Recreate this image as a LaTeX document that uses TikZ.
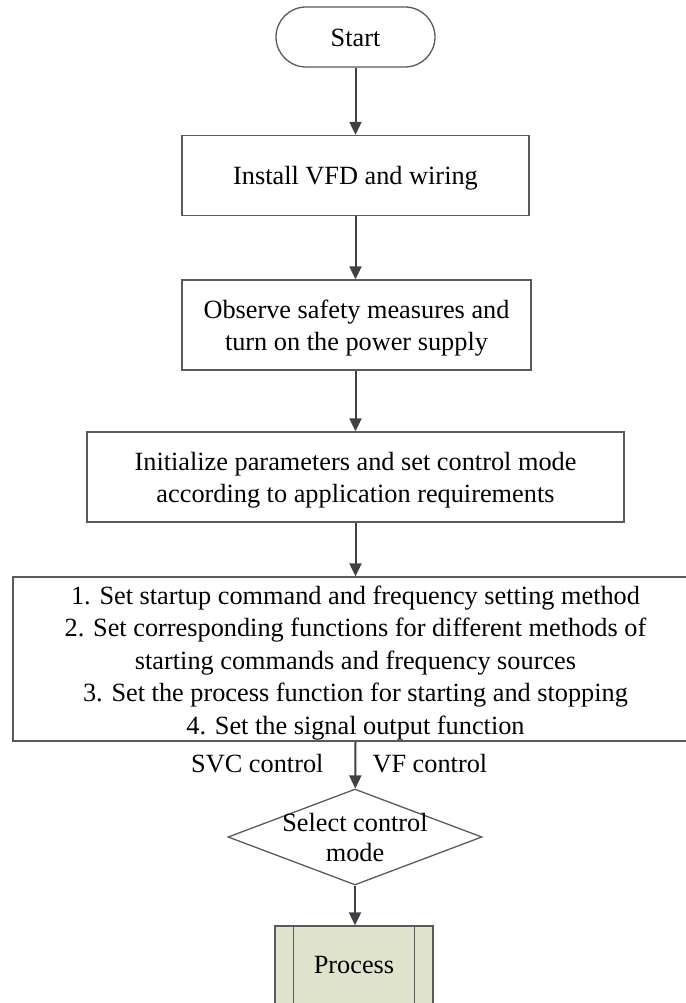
\documentclass[tikz,border=0pt]{standalone}
\usepackage{fontspec}
\setmainfont{Liberation Serif}
\usetikzlibrary{arrows.meta,shapes.geometric}
\definecolor{linec}{HTML}{404040}
\definecolor{boxc}{HTML}{5A5A5A}
\definecolor{procfill}{HTML}{DFE3CC}
\tikzset{
  txt/.style={font=\fontsize{26.3}{32.5}\selectfont, align=center, text=black},
  box/.style={draw=boxc, line width=1.3pt, fill=white, inner sep=0pt},
  conn/.style={draw=linec, line width=2pt, -{Triangle[length=13pt,width=12pt]}},
}
\begin{document}
\begin{tikzpicture}[x=1pt,y=-1pt]
\useasboundingbox (0,0) rectangle (685,1003);
\node[box, rounded corners=30pt, minimum width=159, minimum height=60] (start) at (355.5,37) {};
\node[txt] (startt) at ([yshift=-1pt]start.center) {Start};
\node[box, minimum width=347, minimum height=80] (install) at (355.5,175.5) {};
\node[txt] (installt) at ([yshift=-3pt]install.center) {Install VFD and wiring};
\node[box, minimum width=349, minimum height=90] (observe) at (356.5,325) {};
\node[txt] (observet) at ([yshift=-3pt]observe.center) {Observe safety measures and\\turn on the power supply};
\node[box, minimum width=537, minimum height=90] (init) at (355.5,477) {};
\node[txt] (initt) at ([yshift=-3pt]init.center) {Initialize parameters and set control mode\\according to application requirements};
\node[box, minimum width=685, minimum height=164] (steps) at (355.5,659) {};
\node[txt] (stepst) at ([yshift=-4pt]steps.center) {1. Set startup command and frequency setting method\\2. Set corresponding functions for different methods of\\starting commands and frequency sources\\3. Set the process function for starting and stopping\\4. Set the signal output function};
\node[txt, anchor=east] (svc) at (327,764) {SVC control};
\node[txt, anchor=west] (vf) at (369,764) {VF control};
\node[diamond, box, minimum width=254, minimum height=96] (dec) at (355,837) {};
\node[txt, font=\fontsize{26.3}{30}\selectfont] (dect) at (dec.center) {Select control\\mode};
\node[box, fill=procfill, minimum width=158, minimum height=78] (proc) at (354,965) {};
\node[txt] (proct) at (proc.center) {Process};
\draw[boxc, line width=1.3pt] ([xshift=19pt]proc.north west) -- ([xshift=19pt]proc.south west);
\draw[boxc, line width=1.3pt] ([xshift=-19pt]proc.north east) -- ([xshift=-19pt]proc.south east);
\draw[conn] (start) -- (install);
\draw[conn] (install) -- (install |- observe.north);
\draw[conn] (install |- observe.south) -- (install |- init.north);
\draw[conn] (init) -- (init |- steps.north);
\draw[conn] (init |- steps.south) -- (dec);
\draw[conn] (dec) -- (dec |- proc.north);
\end{tikzpicture}
\end{document}
